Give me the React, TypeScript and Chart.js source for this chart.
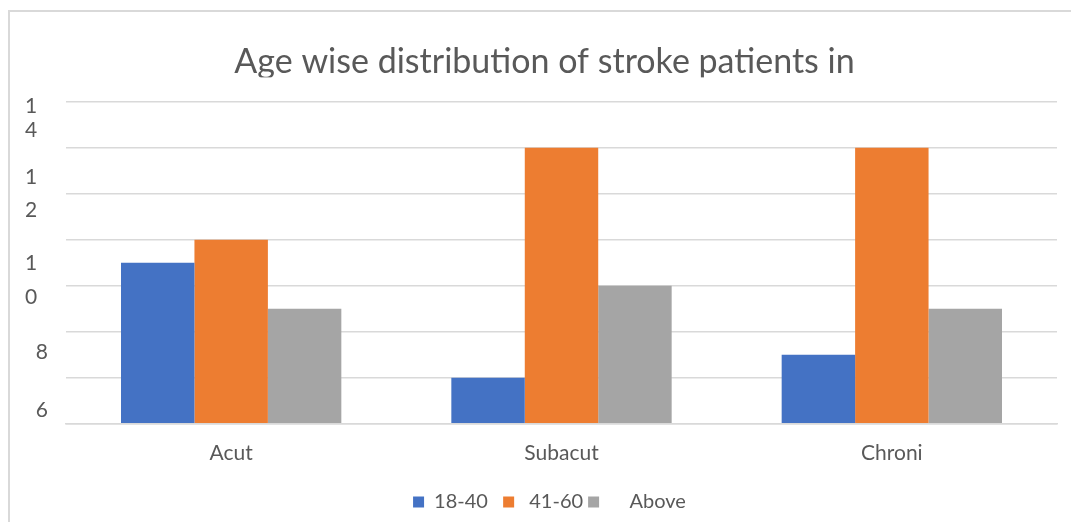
import React, { useEffect, useRef } from "react";
import { Chart, registerables } from "chart.js";

Chart.register(...registerables);

const categories = ["Acut", "Subacut", "Chroni"];
const seriesNames = ["18-40", "41-60", "Above"];
const series1840 = [7, 2, 3];
const series4160 = [8, 12, 12];
const seriesAbove = [5, 6, 5];
const yTickLabels = ["14", "12", "10", "8", "6"];
const yGridValues = [0, 2, 4, 6, 8, 10, 12, 14];
const titleText = "Age wise distribution of stroke patients in";

export default function App() {
  const ref = useRef<HTMLCanvasElement>(null);

  useEffect(() => {
    document.documentElement.style.overflow = "hidden";
    document.body.style.overflow = "hidden";

    const FONT = "Lato, 'Open Sans', sans-serif";
    const TEXT = "#595959";
    const GRID = "#d9d9d9";
    const TITLE_SIZE = 34;
    const TITLE_PAD_TOP = 30;
    const LEGEND_SHIFT = 16;
    const TITLE_SHIFT = 11;
    // where each (wrapped) tick label sits, in value units
    const labelAnchors = [13.3, 10, 6.25, 3.1, 0.6];
    const labelAt = new Map<number, string>(labelAnchors.map((v, i) => [v, yTickLabels[i]]));
    const gridSet = new Set(yGridValues);
    const legendPrefix = ["", " ", "    "];
    const legendSuffix = ["  ", "", ""];

    // the reference title is cut off just below its baseline
    const titleClip = {
      id: "titleClip",
      afterLayout(chart: any) {
        const tb = chart.titleBlock;
        if (tb) {
          tb.left += TITLE_SHIFT;
          tb.right += TITLE_SHIFT;
        }
        const lg = chart.legend;
        if (lg) {
          lg.left += LEGEND_SHIFT;
          lg.right += LEGEND_SHIFT;
        }
      },
      afterDraw(chart: any) {
        const tb = chart.titleBlock;
        if (!tb) return;
        const ctx = chart.ctx;
        ctx.save();
        ctx.font = `normal ${TITLE_SIZE}px ${FONT}`;
        ctx.textBaseline = "middle";
        const w = ctx.measureText(titleText).width;
        const toBase = ctx.measureText("H").actualBoundingBoxDescent;
        const cx = (tb.left + tb.right) / 2;
        const mid = tb.top + TITLE_PAD_TOP + (TITLE_SIZE * 1.2) / 2;
        const clipTop = mid + toBase + 4;
        ctx.fillStyle = "#ffffff";
        ctx.fillRect(cx - w / 2 - 4, clipTop, w + 8, TITLE_SIZE * 0.3);
        ctx.restore();
      },
    };

    const chart = new Chart(ref.current!, {
      type: "bar",
      data: {
        labels: categories,
        datasets: [
          { label: seriesNames[0], data: series1840, backgroundColor: "#4472C4" },
          { label: seriesNames[1], data: series4160, backgroundColor: "#ED7D31" },
          { label: seriesNames[2], data: seriesAbove, backgroundColor: "#A5A5A5" },
        ],
      },
      plugins: [titleClip],
      options: {
        animation: false,
        responsive: false,
        maintainAspectRatio: false,
        layout: { padding: { left: 0, right: 14, top: 0, bottom: 0 } },
        datasets: { bar: { categoryPercentage: 0.667, barPercentage: 1 } },
        plugins: {
          title: {
            display: true,
            text: titleText,
            color: TEXT,
            font: { family: FONT, size: TITLE_SIZE, weight: "normal" },
            padding: { top: TITLE_PAD_TOP, bottom: 19 },
          },
          legend: {
            position: "bottom",
            labels: {
              boxWidth: 11,
              boxHeight: 11,
              color: TEXT,
              padding: 5,
              font: { family: FONT, size: 20 },
              generateLabels: (chart: any) => {
                const items = Chart.defaults.plugins.legend.labels.generateLabels(chart);
                return items.map((it: any, i: number) => ({
                  ...it,
                  text: legendPrefix[i] + it.text + legendSuffix[i],
                  lineWidth: 0,
                }));
              },
            },
          },
          tooltip: { enabled: false },
        },
        scales: {
          x: {
            grid: { display: false },
            border: { display: true, color: GRID, width: 1.5 },
            ticks: { color: TEXT, font: { family: FONT, size: 21 }, padding: 9 },
            afterFit: (s: any) => {
              s.height += 12;
            },
          },
          y: {
            min: 0,
            max: 14,
            afterFit: (s: any) => {
              s.width = 56;
            },
            afterBuildTicks: (s: any) => {
              const vals = Array.from(new Set([...yGridValues, ...labelAnchors])).sort((a, b) => a - b);
              s.ticks = vals.map((v) => ({ value: v }));
            },
            grid: {
              color: (ctx: any) => (ctx.tick && gridSet.has(ctx.tick.value) ? GRID : "rgba(0,0,0,0)"),
              lineWidth: 1.5,
              drawTicks: false,
            },
            border: { display: false },
            ticks: {
              autoSkip: false,
              color: TEXT,
              padding: 18,
              font: (ctx: any) => ({
                family: FONT,
                size: 21,
                lineHeight: ctx.tick && ctx.tick.value === labelAnchors[0] ? 1.15 : 1.6,
              }),
              callback: (v: any) => {
                const l = labelAt.get(Number(v));
                if (!l) return "";
                return l.length > 1 ? l.split("").map((c) => c + "  ") : l;
              },
            },
          },
        },
      },
    });
    return () => chart.destroy();
  }, []);

  return (
    <div
      style={{
        position: "fixed",
        left: 8,
        top: 10,
        width: 1061,
        height: 510,
        borderTop: "2px solid #d9d9d9",
        borderLeft: "2px solid #d9d9d9",
        boxSizing: "content-box",
        overflow: "hidden",
      }}
    >
      <canvas ref={ref} width={1061} height={510} style={{ display: "block" }} />
    </div>
  );
}
